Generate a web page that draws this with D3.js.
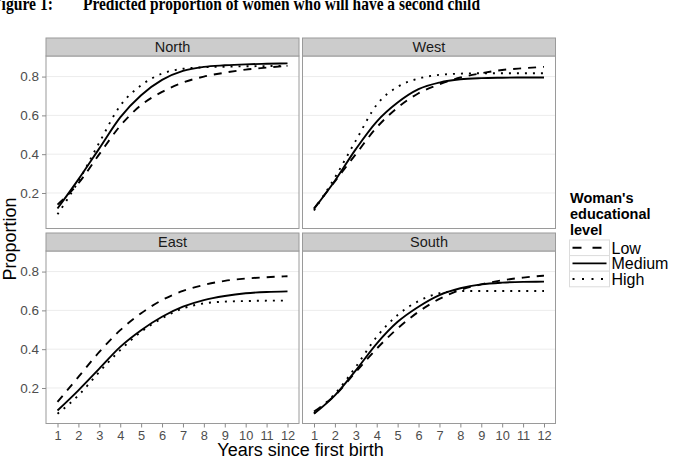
<!DOCTYPE html>
<html>
<head>
<meta charset="utf-8">
<script src="https://cdn.jsdelivr.net/npm/d3@7"></script>
<style>
  html, body { margin: 0; padding: 0; background: #ffffff; }
  svg { display: block; }
</style>
</head>
<body>
<svg id="chart" width="674" height="460"></svg>
<script>
// ---- data ----
const years = [1, 2, 3, 4, 5, 6, 7, 8, 9, 10, 11, 12];
const regions = ["North", "West", "East", "South"];
const levels = ["Low", "Medium", "High"];
const yTicks = [0.2, 0.4, 0.6, 0.8];
const xTicks = [1, 2, 3, 4, 5, 6, 7, 8, 9, 10, 11, 12];

const northLow    = [0.140, 0.250, 0.400, 0.546, 0.653, 0.721, 0.769, 0.800, 0.820, 0.836, 0.846, 0.855];
const northMedium = [0.120, 0.270, 0.430, 0.590, 0.704, 0.783, 0.829, 0.850, 0.858, 0.863, 0.866, 0.868];
const northHigh   = [0.090, 0.260, 0.460, 0.650, 0.755, 0.815, 0.840, 0.848, 0.851, 0.853, 0.854, 0.855];

const westLow     = [0.120, 0.260, 0.400, 0.538, 0.640, 0.714, 0.760, 0.795, 0.817, 0.834, 0.843, 0.850];
const westMedium  = [0.118, 0.263, 0.426, 0.568, 0.666, 0.735, 0.769, 0.786, 0.792, 0.794, 0.795, 0.795];
const westHigh    = [0.110, 0.280, 0.470, 0.655, 0.747, 0.790, 0.809, 0.815, 0.817, 0.817, 0.817, 0.817];

const eastLow     = [0.128, 0.257, 0.386, 0.498, 0.585, 0.653, 0.700, 0.731, 0.752, 0.764, 0.771, 0.776];
const eastMedium  = [0.084, 0.188, 0.300, 0.412, 0.498, 0.567, 0.619, 0.653, 0.674, 0.688, 0.695, 0.698];
const eastHigh    = [0.067, 0.162, 0.283, 0.395, 0.490, 0.559, 0.610, 0.636, 0.645, 0.648, 0.650, 0.650];

const southLow    = [0.079, 0.162, 0.283, 0.403, 0.507, 0.593, 0.659, 0.705, 0.734, 0.755, 0.769, 0.779];
const southMedium = [0.067, 0.162, 0.291, 0.429, 0.541, 0.619, 0.679, 0.714, 0.734, 0.743, 0.747, 0.748];
const southHigh   = [0.070, 0.170, 0.309, 0.464, 0.576, 0.648, 0.688, 0.700, 0.700, 0.700, 0.700, 0.700];

const seriesByRegion = {
  North: [northLow, northMedium, northHigh],
  West:  [westLow, westMedium, westHigh],
  East:  [eastLow, eastMedium, eastHigh],
  South: [southLow, southMedium, southHigh]
};

// ---- styles ----
const dashFor = { Low: "8,7", Medium: null, High: "2,6" };
const sans = "'Liberation Sans', Arial, Helvetica, sans-serif";
const serif = "'Liberation Serif', 'Times New Roman', Times, serif";

const svg = d3.select("#chart");

// title (partially cut off at top-left like the reference)
svg.append("text").attr("x", -8).attr("y", 9.5)
  .attr("font-family", serif).attr("font-weight", "bold").attr("font-size", 19)
  .attr("textLength", 61).attr("lengthAdjust", "spacingAndGlyphs")
  .attr("fill", "#000").text("Figure 1:");
svg.append("text").attr("x", 83).attr("y", 9.5)
  .attr("font-family", serif).attr("font-weight", "bold").attr("font-size", 19)
  .attr("textLength", 397).attr("lengthAdjust", "spacingAndGlyphs")
  .attr("fill", "#000").text("Predicted proportion of women who will have a second child");

// ---- facet layout ----
const colX = [46, 302.5];
const panelW = 253;
const stripTop = [38, 233];
const stripH = 18;
const panelH = 172.5;

const x = d3.scaleLinear().domain([0.45, 12.55]);
const line = d3.line().curve(d3.curveMonotoneX);

regions.forEach((reg, i) => {
  const c = i % 2, r = Math.floor(i / 2);
  const px = colX[c], sy = stripTop[r], py = sy + stripH;
  const xs = x.copy().range([px, px + panelW]);
  const ys = d3.scaleLinear().domain([0.017, 0.906]).range([py + panelH, py]);

  const g = svg.append("g");

  // panel background
  g.append("rect").attr("x", px).attr("y", py).attr("width", panelW).attr("height", panelH)
    .attr("fill", "#ffffff");

  // horizontal grid lines
  g.selectAll(".grid").data(yTicks).enter().append("line")
    .attr("x1", px).attr("x2", px + panelW)
    .attr("y1", d => ys(d)).attr("y2", d => ys(d))
    .attr("stroke", "#ececec").attr("stroke-width", 1);

  // lines
  seriesByRegion[reg].forEach((vals, k) => {
    const lev = levels[k];
    g.append("path")
      .attr("d", line(years.map((yr, j) => [xs(yr), ys(vals[j])])))
      .attr("fill", "none").attr("stroke", "#000").attr("stroke-width", 1.9)
      .attr("stroke-dasharray", dashFor[lev])
      .attr("stroke-linecap", "butt");
  });

  // panel border
  g.append("rect").attr("x", px).attr("y", py).attr("width", panelW).attr("height", panelH)
    .attr("fill", "none").attr("stroke", "#9a9a9a").attr("stroke-width", 1);

  // strip
  g.append("rect").attr("x", px).attr("y", sy).attr("width", panelW).attr("height", stripH)
    .attr("fill", "#cccccc").attr("stroke", "#9a9a9a").attr("stroke-width", 1);
  g.append("text").attr("x", px + panelW / 2).attr("y", sy + stripH / 2 + 5)
    .attr("text-anchor", "middle").attr("font-family", sans).attr("font-size", 14.5)
    .attr("fill", "#1a1a1a").text(reg);

  // y axis on left column
  if (c === 0) {
    const ya = d3.axisLeft(ys).tickValues(yTicks).tickFormat(d3.format(".1f")).tickSize(4).tickPadding(3);
    const ag = g.append("g").attr("transform", `translate(${px},0)`).call(ya);
    ag.select(".domain").remove();
    ag.selectAll(".tick line").attr("stroke", "#8a8a8a");
    ag.selectAll(".tick text").attr("font-family", sans).attr("font-size", 13.5).attr("fill", "#4d4d4d");
  }
  // x axis on bottom row
  if (r === 1) {
    const xa = d3.axisBottom(xs).tickValues(xTicks).tickFormat(d3.format("d")).tickSize(4).tickPadding(3);
    const ag = g.append("g").attr("transform", `translate(0,${py + panelH})`).call(xa);
    ag.select(".domain").remove();
    ag.selectAll(".tick line").attr("stroke", "#8a8a8a");
    ag.selectAll(".tick text").attr("font-family", sans).attr("font-size", 12.8).attr("fill", "#4d4d4d");
  }
});

// axis titles
svg.append("text").attr("x", 300.5).attr("y", 456)
  .attr("text-anchor", "middle").attr("font-family", sans).attr("font-size", 18)
  .attr("fill", "#000").text("Years since first birth");
svg.append("text").attr("transform", "translate(16,239) rotate(-90)")
  .attr("text-anchor", "middle").attr("font-family", sans).attr("font-size", 18)
  .attr("fill", "#000").text("Proportion");

// ---- legend ----
const lg = svg.append("g");
const legendTitle = ["Woman's", "educational", "level"];
legendTitle.forEach((t, i) => {
  lg.append("text").attr("x", 570).attr("y", 203 + i * 16)
    .attr("font-family", sans).attr("font-weight", "bold").attr("font-size", 14.5)
    .attr("fill", "#000").text(t);
});
const keyX = 569.5, keyW = 40, keyH = 15.6, keyTop = 240;
levels.forEach((lev, i) => {
  const ky = keyTop + i * keyH;
  lg.append("rect").attr("x", keyX).attr("y", ky).attr("width", keyW).attr("height", keyH)
    .attr("fill", "#fff").attr("stroke", "#dcdcdc").attr("stroke-width", 1);
  lg.append("line").attr("x1", keyX + 3).attr("x2", keyX + keyW - 3)
    .attr("y1", ky + keyH / 2).attr("y2", ky + keyH / 2)
    .attr("stroke", "#000").attr("stroke-width", 1.9)
    .attr("stroke-dasharray", lev === "Low" ? "9,11" : (lev === "High" ? "2,7.5" : null));
  lg.append("text").attr("x", keyX + keyW + 2).attr("y", ky + keyH / 2 + 6)
    .attr("font-family", sans).attr("font-size", 16).attr("fill", "#000").text(lev);
});
</script>
</body>
</html>
